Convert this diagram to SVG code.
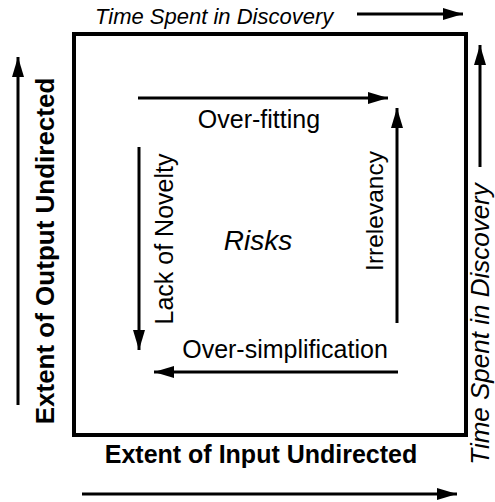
<svg xmlns="http://www.w3.org/2000/svg" width="495" height="502" viewBox="0 0 495 502">
<defs>
<marker id="ah" viewBox="0 0 20 12" refX="20" refY="6" markerWidth="20" markerHeight="12" markerUnits="userSpaceOnUse" orient="auto">
<path d="M0,0 L20,6 L0,12 Z" fill="#000"/>
</marker>
</defs>
<style>
.t{font-family:"Liberation Sans",Arial,sans-serif;fill:#000}
.i{font-style:italic}
.b{font-weight:bold}
.a{stroke:#000;stroke-width:3;fill:none;marker-end:url(#ah)}
</style>
<g id="frame"><rect x="74" y="34" width="392" height="401" fill="#fff" stroke="#000" stroke-width="4"/></g>
<g id="connectors">
<line class="a" x1="357" y1="14" x2="463" y2="14"/>
<line class="a" x1="18" y1="405" x2="18" y2="57"/>
<line class="a" x1="480" y1="167" x2="480" y2="45"/>
<line class="a" x1="82" y1="494" x2="457" y2="494"/>
<line class="a" x1="138" y1="98" x2="388" y2="98"/>
<line class="a" x1="397" y1="323" x2="397" y2="108"/>
<line class="a" x1="398" y1="372" x2="154" y2="372"/>
<line class="a" x1="139" y1="147" x2="139" y2="350"/>
</g>
<g id="top-label"><text class="t i" x="95" y="24" font-size="22">Time Spent in Discovery</text></g>
<g id="left-label"><text class="t b" transform="translate(54,251) rotate(-90)" text-anchor="middle" font-size="26">Extent of Output Undirected</text></g>
<g id="right-label"><text class="t i" transform="translate(489,324) rotate(-90)" text-anchor="middle" font-size="26">Time Spent in Discovery</text></g>
<g id="bottom-label"><text class="t b" x="261" y="463" text-anchor="middle" font-size="25">Extent of Input Undirected</text></g>
<g id="overfitting"><text class="t" x="259" y="128" text-anchor="middle" font-size="25">Over-fitting</text></g>
<g id="irrelevancy"><text class="t" transform="translate(383,211) rotate(-90)" text-anchor="middle" font-size="24.5">Irrelevancy</text></g>
<g id="oversimplification"><text class="t" x="285" y="358" text-anchor="middle" font-size="25">Over-simplification</text></g>
<g id="lack-of-novelty"><text class="t" transform="translate(173,239) rotate(-90)" text-anchor="middle" font-size="25">Lack of Novelty</text></g>
<g id="risks"><text class="t i" x="258" y="250" text-anchor="middle" font-size="28">Risks</text></g>
</svg>
